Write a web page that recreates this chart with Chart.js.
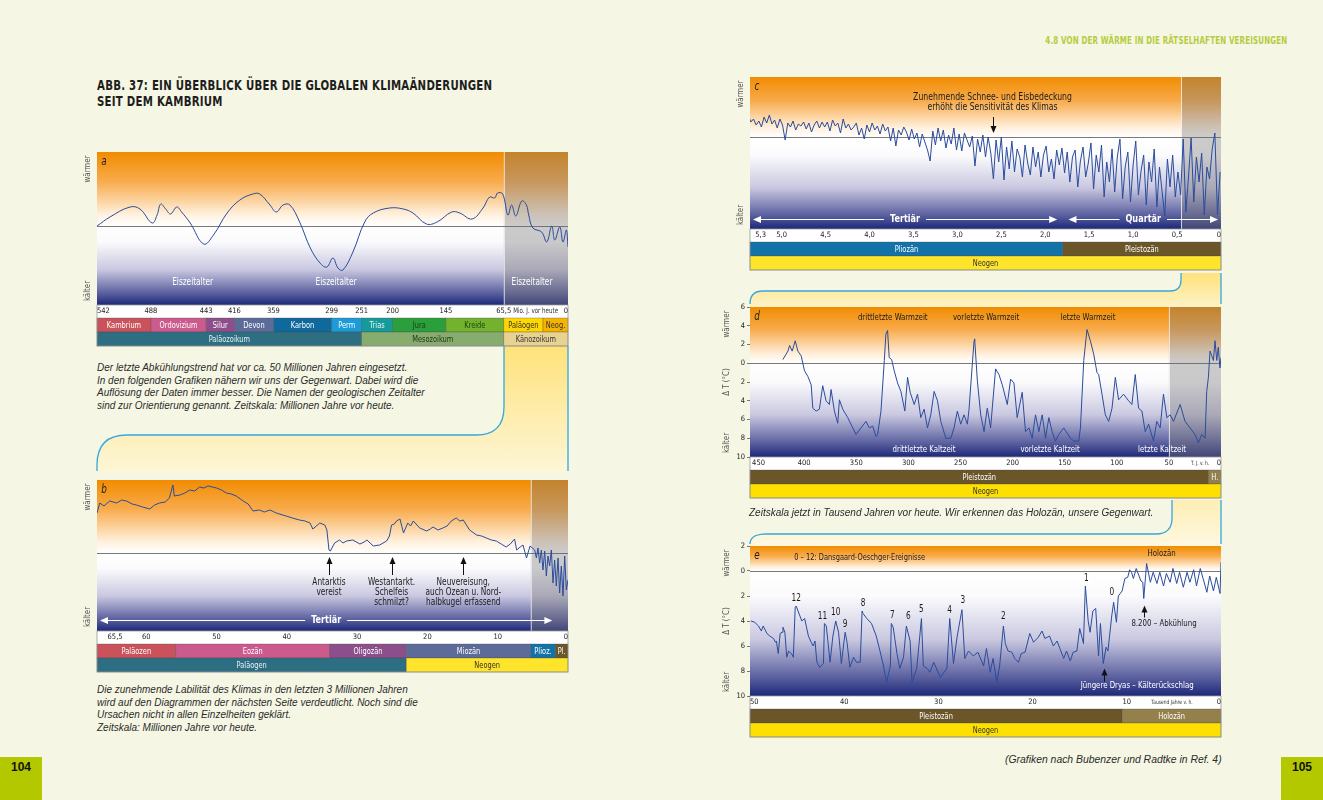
<!DOCTYPE html>
<html lang="de">
<head>
<meta charset="utf-8">
<title>Abb. 37 – Globale Klimaänderungen seit dem Kambrium</title>
<script src="https://cdn.jsdelivr.net/npm/chart.js@4.4.1/dist/chart.umd.min.js"></script>
<style>
  html, body { margin: 0; padding: 0; }
  body { width: 1323px; height: 800px; background: #f5f7e4; position: relative; overflow: hidden;
         font-family: "Liberation Sans", Arial, sans-serif; }
  canvas { position: absolute; }
  #conn { position: absolute; left: 0; top: 0; }
  #title { position: absolute; left: 97px; top: 77px; color: #1e1e1e; letter-spacing: 0.3px; white-space: nowrap;
           font: bold 14px/16px "Liberation Sans Narrow", "DejaVu Sans Condensed", sans-serif;
           transform: scaleX(0.81); transform-origin: left top; }
  #head { position: absolute; right: 36px; top: 35px; color: #b6cc3e; letter-spacing: 0.2px; white-space: nowrap;
          font: bold 10px/12px "Liberation Sans Narrow", "DejaVu Sans Condensed", sans-serif;
          transform: scaleX(0.79); transform-origin: right top; }
  .cap { position: absolute; color: #2b2b2b; font: italic 10px/12.6px "Liberation Sans", Arial, sans-serif; white-space: nowrap; }
  .pg { position: absolute; top: 757px; width: 42px; height: 43px; background: #b4c800;
        font: bold 12px/20px "Liberation Sans", Arial, sans-serif; text-align: center; color: #111; }
</style>
</head>
<body>
<svg id="conn" width="1323" height="800">
  <defs>
    <linearGradient id="g1" x1="0" y1="0" x2="0" y2="1">
      <stop offset="0" stop-color="#ffe27a"/><stop offset="1" stop-color="#fdf6d8"/>
    </linearGradient>
    <linearGradient id="g2" x1="0" y1="0" x2="0" y2="1">
      <stop offset="0" stop-color="#ffe27a"/><stop offset="1" stop-color="#fdf3c8"/>
    </linearGradient>
    <linearGradient id="g3" x1="0" y1="0" x2="0" y2="1">
      <stop offset="0" stop-color="#fdeeb4"/><stop offset="1" stop-color="#fef8e2"/>
    </linearGradient>
  </defs>
  <path d="M504,346 L504,407 Q504,435 476,435 L127,435 Q97,435 97,465 L97,473 L568,473 L568,346 Z" fill="url(#g1)"/>
  <path d="M504,346 L504,407 Q504,435 476,435 L127,435 Q97,435 97,465 L97,471 M568,346 L568,471" stroke="#35a8dd" stroke-width="1.3" fill="none"/>
  <path d="M1181,273 L1181,280 Q1181,291 1170,291 L763,291 Q750,291 750,304 L750,307 L1221,307 L1221,273 Z" fill="url(#g2)"/>
  <path d="M1181,273 L1181,280 Q1181,291 1170,291 L763,291 Q750,291 750,304 M1221,273 L1221,304" stroke="#35a8dd" stroke-width="1.3" fill="none"/>
  <path d="M1172,500 L1172,518 Q1172,534 1156,534 L766,534 Q750,534 750,546 L1221,546 L1221,500 Z" fill="url(#g3)"/>
  <path d="M1172,500 L1172,518 Q1172,534 1156,534 L766,534 Q750,534 750,544 M1221,500 L1221,544" stroke="#35a8dd" stroke-width="1.3" fill="none"/>
</svg>

<div id="head">4.8 VON DER WÄRME IN DIE RÄTSELHAFTEN VEREISUNGEN</div>
<div id="title">ABB. 37: EIN ÜBERBLICK ÜBER DIE GLOBALEN KLIMAÄNDERUNGEN<br>SEIT DEM KAMBRIUM</div>

<canvas id="cA" width="495" height="210" style="left:80px;top:145px"></canvas>
<canvas id="cB" width="495" height="210" style="left:80px;top:473px"></canvas>
<canvas id="cC" width="505" height="210" style="left:725px;top:70px"></canvas>
<canvas id="cD" width="525" height="210" style="left:705px;top:300px"></canvas>
<canvas id="cE" width="525" height="210" style="left:705px;top:539px"></canvas>

<div class="cap" style="left:97px;top:362px">Der letzte Abkühlungstrend hat vor ca. 50 Millionen Jahren eingesetzt.<br>In den folgenden Grafiken nähern wir uns der Gegenwart. Dabei wird die<br>Auflösung der Daten immer besser. Die Namen der geologischen Zeitalter<br>sind zur Orientierung genannt. Zeitskala: Millionen Jahre vor heute.</div>
<div class="cap" style="left:97px;top:684px">Die zunehmende Labilität des Klimas in den letzten 3 Millionen Jahren<br>wird auf den Diagrammen der nächsten Seite verdeutlicht. Noch sind die<br>Ursachen nicht in allen Einzelheiten geklärt.<br>Zeitskala: Millionen Jahre vor heute.</div>
<div class="cap" style="left:749px;top:507px">Zeitskala jetzt in Tausend Jahren vor heute. Wir erkennen das Holozän, unsere Gegenwart.</div>
<div class="cap" style="left:1005px;top:754px;font-size:10.4px">(Grafiken nach Bubenzer und Radtke in Ref. 4)</div>
<div class="pg" style="left:0">104</div>
<div class="pg" style="left:1281px">105</div>

<script>
// ---------- a: Kambrium bis heute (Mio. Jahre) ----------
const aPeriods = ['Kambrium', 'Ordovizium', 'Silur', 'Devon', 'Karbon', 'Perm', 'Trias', 'Jura', 'Kreide', 'Paläogen', 'Neog.'];
const aBounds = [542, 488, 443, 416, 359, 299, 251, 200, 145, 65.5, 23, 0];
const aTicks = [542, 488, 443, 416, 359, 299, 251, 200, 145, 65.5, 0];
const aEras = ['Paläozoikum', 'Mesozoikum', 'Känozoikum'];
const aEraBounds = [542, 251, 65.5, 0];
const aAge = [542, 529, 509, 499, 487, 483, 480, 476, 472, 467,
              463, 456, 445, 436, 423, 408, 389, 379, 364, 356,
              349, 342, 332, 321, 311, 304, 297, 289, 281, 265,
              246, 232, 205, 189, 179, 165, 154, 137, 126, 109,
              94, 85, 78, 74, 67, 61, 57, 52.5, 46, 41,
              38.5, 34, 24.5, 19.6, 15, 12.2, 7.6, 4.6, 1.5, 0];
const aTemp = [0, 0.9, 1.9, 1.7, 0.3, 1.1, 2.2, 1.7, 1.2, 1.9,
               1.4, 0.3, -1.8, -0.9, 1.3, 2.6, 3.2, 3.2, 2.1, 1.4,
               2.1, 2.1, 0.4, -2.2, -3.7, -4.1, -3.2, -4.2, -4.4, -2.6,
               0.4, 1.3, 1.8, 1.7, 1.3, 0.2, 0.4, 1.4, 1.3, 0.7,
               1.8, 2.9, 2.8, 3.3, 3.2, 1.1, 2.1, 1.0, 2.5, 2.1,
               1.1, -0.2, -0.6, -1.6, 0, -1.4, -0.1, -1.6, -0.4, -2.1];
const aIceAges = [454, 292, 35];

// ---------- b: Tertiär (Mio. Jahre) ----------
const bEpochs = ['Paläozen', 'Eozän', 'Oligozän', 'Miozän', 'Plioz.', 'Pl.'];
const bEpochBounds = [65.5, 55.8, 33.9, 23, 5.3, 1.8, 0];
const bPeriods = ['Paläogen', 'Neogen'];
const bPeriodBounds = [65.5, 23, 0];
const bTicks = [65.5, 60, 50, 40, 30, 20, 10, 0];
const bAge = [67.0, 66.6, 66.0, 65.2, 64.2, 63.5, 62.8, 62.0, 61.4, 60.5,
              59.5, 58.8, 58.1, 57.3, 56.7, 56.2, 56.0, 55.2, 54.5, 53.8,
              53.1, 52.4, 51.8, 51.2, 50.0, 49.3, 48.6, 47.9, 47.2, 46.2,
              45.5, 44.8, 43.9, 43.2, 42.4, 41.5, 40.1, 39.2, 38.2, 37.4,
              36.7, 36.3, 35.3, 34.6, 34.3, 34.0, 33.8, 33.2, 32.5, 32.0,
              31.5, 30.6, 29.6, 29.0, 28.6, 27.7, 26.8, 25.8, 25.4, 25.1,
              24.7, 24.4, 23.9, 23.4, 22.8, 22.4, 22.0, 21.1, 20.1, 19.6,
              19.2, 18.5, 17.8, 17.2, 16.6, 15.9, 15.4, 14.9, 14.0, 13.0,
              12.3, 11.6, 10.9, 10.2, 9.5, 8.8, 8.2, 7.6, 7.3, 6.8,
              6.4, 5.9, 5.4, 4.74, 4.5, 4.27, 4.03, 3.79, 3.56, 3.32,
              3.08, 2.84, 2.61, 2.37, 2.13, 1.9, 1.66, 1.42, 1.19, 0.95,
              0.71, 0.47, 0.24, 0];
const bTemp = [4.0, 5.0, 4.7, 5.2, 5.0, 5.3, 5.2, 4.9, 4.8, 4.6,
               4.4, 4.8, 5.0, 5.1, 5.5, 6.8, 5.7, 5.8, 6.0, 6.3,
               6.2, 6.6, 6.5, 6.7, 6.5, 6.3, 6.0, 5.9, 5.7, 5.2,
               4.9, 4.2, 4.3, 4.1, 4.3, 4.0, 3.7, 3.5, 3.3, 3.2,
               3.0, 2.4, 3.0, 2.8, 2.3, 0.3, 0.2, 1.0, 1.3, 1.0,
               1.2, 1.3, 0.9, 1.1, 1.3, 0.7, 0.8, 1.2, 1.7, 2.8,
               2.9, 3.2, 3.4, 2.0, 3.0, 2.7, 3.2, 2.5, 2.2, 2.4,
               2.6, 2.3, 2.5, 2.7, 3.2, 3.5, 3.2, 3.3, 2.3, 1.8,
               1.7, 1.5, 1.3, 1.2, 0.9, 0.6, 0.9, 1.4, 0.3, 0.6,
               0.8, -0.5, 0.7, 0.3, -0.5, 0.5, -1.0, 0.3, -1.7, 0.2,
               -2.3, -0.3, -1.3, 0.3, -3.0, -0.7, -3.3, -0.5, -4.0, -1.3,
               -4.3, -0.3, -3.7, -2.7];
const bEvents = ['Antarktis\nvereist', 'Westantarkt.\nSchelfeis\nschmilzt?', 'Neuvereisung,\nauch Ozean u. Nord-\nhalbkugel erfassend'];
const bEventAge = [34.0, 25.1, 14.9];

// ---------- c: Pliozän/Pleistozän (Mio. Jahre) ----------
const cEpochs = ['Pliozän', 'Pleistozän'];
const cEpochBounds = [5.3, 1.8, 0];
const cTicks = [5.3, 5.0, 4.5, 4.0, 3.5, 3.0, 2.5, 2.0, 1.5, 1.0, 0.5, 0];
const cStart = 5.38, cStep = 0.03;   // Abtastung der Kurve in Mio. Jahren
const cTemp = [2.2, 1.5, 1.8, 1.2, 1.6, 1.0, 2.0, 1.4, 2.2, 1.3,
               1.7, 0.9, 1.8, 1.2, -0.3, 1.4, 1.0, 1.6, 0.7, 1.3,
               1.1, 1.5, 0.8, 1.4, 0.5, 1.2, 1.6, 0.9, 1.5, 1.0,
               1.5, 0.6, 1.7, 1.1, 1.4, 0.4, 1.8, 0.9, 1.3, 0.7,
               1.0, 1.4, 0.2, 0.9, -0.2, 1.2, 0.5, 1.4, 0.7, 1.1,
               0.3, 1.3, 0.6, 1.0, -0.4, 0.9, -0.9, 0.7, 0.2, 1.0,
               0.5, -0.3, 0.8, -0.2, 0.4, -1.0, 0.3, -0.5, -1.3, -2.4,
               0.6, -0.8, 0.9, -0.4, 0.7, -1.1, 0.2, -0.7, 0.9, -1.3,
               0.3, -1.4, 0.4, -0.3, -1.0, 0.1, -2.9, -0.2, -1.5, 0.2,
               -2.0, 0.0, -1.6, -4.2, -0.3, -2.5, 0.0, -4.3, -1.0, -3.2,
               -0.4, -3.5, -1.2, -2.0, -4.0, -0.8, -2.6, -3.8, -1.0, -3.0,
               -1.5, -4.0, -1.8, -0.9, -3.5, -2.2, -4.2, -1.3, -2.8, -1.1,
               -3.6, -1.5, -4.5, -2.0, -1.3, -5.0, -2.4, -1.0, -4.0, -2.6,
               -0.6, -5.2, -1.8, -3.5, -0.8, -6.0, -2.5, -4.5, -1.2, -5.5,
               -2.0, -0.2, -6.2, -3.0, -1.5, -6.5, -2.8, -0.4, -5.8, -3.4,
               -1.8, -6.8, -2.5, -4.5, -1.2, -7.0, -3.0, -5.5, -7.9, -2.2,
               -5.0, -1.8, -6.0, -3.5, -5.8, -0.2, -7.5, -4.0, -0.1, -6.5,
               -2.0, -4.5, -1.6, -7.8, -3.0, -4.2, -1.2, 0.4, -7.8, -3.5];

// ---------- d: letzte 450.000 Jahre (Tausend Jahre), Delta T in °C ----------
const dEpochs = ['Pleistozän', 'H.'];
const dEpochBounds = [452, 12, 0];
const dTicks = [450, 400, 350, 300, 250, 200, 150, 100, 50, 0];
const dAge = [420.4, 415.6, 414.0, 411.5, 408.6, 406.1, 402.9, 399.7, 396.5, 393.3,
              391.7, 388.5, 385.4, 382.2, 379.0, 375.8, 374.2, 371.0, 367.8, 366.2,
              363.0, 358.2, 353.4, 350.3, 345.5, 340.7, 337.5, 334.3, 331.1, 329.5,
              326.3, 323.1, 321.6, 320.0, 318.4, 316.1, 313.6, 310.4, 307.2, 303.4,
              300.8, 298.3, 294.4, 291.2, 288.1, 284.9, 281.7, 278.5, 275.3, 272.1,
              268.9, 264.1, 259.3, 256.2, 253.0, 249.8, 246.6, 243.4, 241.8, 237.0,
              236.4, 233.8, 230.6, 227.4, 224.3, 221.1, 216.3, 213.1, 209.9, 205.1,
              201.9, 198.7, 195.6, 190.8, 187.6, 184.4, 181.2, 178.0, 174.8, 171.6,
              168.4, 165.2, 162.1, 158.9, 155.7, 150.9, 144.5, 141.3, 136.5, 134.9,
              131.7, 128.6, 125.4, 122.2, 119.0, 117.4, 114.2, 111.0, 107.8, 104.6,
              101.4, 98.3, 93.5, 88.7, 85.5, 82.3, 79.1, 75.9, 72.7, 69.5,
              64.8, 61.6, 58.4, 55.2, 52.0, 48.8, 45.6, 39.2, 34.5, 29.7,
              24.9, 21.7, 18.5, 15.3, 13.7, 12.1, 10.5, 7.3, 5.7, 4.1,
              2.6, 1.0, 0];
const dTemp = [0.4, 1.3, 1.9, 1.3, 2.4, 1.3, 0.8, -0.8, -1.4, -2.3,
               -4.8, -5.1, -4.9, -2.4, -4.0, -4.4, -2.8, -5.1, -6.4, -3.9,
               -4.9, -5.8, -6.9, -7.6, -6.9, -6.2, -6.9, -6.7, -7.8, -7.6,
               -5.1, 0.3, 3.1, 3.5, 0.6, 0.4, -0.8, -2.1, -3.0, -5.1,
               -1.5, -3.1, -4.4, -3.3, -5.8, -4.9, -6.9, -5.5, -3.0, -4.0,
               -6.2, -8.0, -8.0, -6.9, -5.1, -6.5, -5.5, -6.5, -4.9, 2.4,
               2.6, -1.9, -5.5, -7.3, -4.8, -6.9, -0.6, -1.2, -2.3, -4.4,
               -1.7, -2.1, -5.8, -3.1, -7.3, -6.9, -8.0, -5.5, -7.3, -5.5,
               -8.0, -5.8, -7.3, -8.3, -7.6, -6.9, -8.0, -8.3, -8.3, -6.9,
               0.3, 3.6, 2.4, 1.0, -1.0, -1.2, -3.3, -5.5, -6.2, -4.8,
               -1.5, -3.9, -3.3, -4.0, -4.4, -1.2, -4.8, -5.1, -7.3, -6.5,
               -8.3, -6.2, -6.9, -3.3, -5.8, -5.5, -6.2, -4.4, -6.2, -6.9,
               -7.6, -8.5, -7.6, -8.0, -3.0, -1.5, 1.3, 0.3, 2.4, 0.3,
               1.7, -0.5, 0.6];
const dWarm = ['drittletzte Warmzeit', 'vorletzte Warmzeit', 'letzte Warmzeit'];
const dWarmAge = [315, 225.5, 127.6];
const dCold = ['drittletzte Kaltzeit', 'vorletzte Kaltzeit', 'letzte Kaltzeit'];
const dColdAge = [285, 164, 56.6];

// ---------- e: letzte 50.000 Jahre (Tausend Jahre), Delta T in °C ----------
const eEpochs = ['Pleistozän', 'Holozän'];
const eEpochBounds = [50, 10.5, 0];
const eTicks = [50, 40, 30, 20, 10, 0];
const eAge = [49.9, 49.5, 49.1, 48.8, 48.6, 48.2, 47.9, 47.5, 47.3, 47.2,
              47.0, 46.8, 46.6, 46.5, 46.3, 46.1, 45.9, 45.8, 45.6, 45.4,
              45.2, 45.1, 44.9, 44.5, 44.2, 43.8, 43.5, 43.3, 43.1, 42.9,
              42.6, 42.2, 42.1, 41.9, 41.5, 41.2, 40.9, 40.6, 40.3, 39.9,
              39.7, 39.4, 39.0, 38.7, 38.3, 38.1, 38.0, 37.6, 37.1, 36.6,
              36.2, 35.8, 35.5, 35.1, 35.0, 34.8, 34.4, 34.1, 33.7, 33.4,
              33.0, 32.8, 32.3, 31.8, 31.6, 31.2, 30.9, 30.5, 29.8, 29.1,
              28.8, 28.4, 28.0, 27.5, 27.2, 26.8, 26.3, 25.8, 25.2, 24.9,
              24.5, 24.2, 23.8, 23.5, 23.1, 22.9, 22.6, 22.2, 21.9, 21.5,
              21.2, 20.8, 20.3, 19.9, 19.4, 19.0, 18.7, 18.2, 17.8, 17.4,
              17.1, 16.7, 16.4, 16.0, 15.7, 15.3, 15.0, 14.6, 14.4, 14.1,
              13.9, 13.6, 13.3, 13.0, 12.8, 12.5, 12.2, 12.0, 11.6, 11.4,
              11.1, 10.9, 10.5, 10.2, 9.9, 9.7, 9.5, 9.3, 9.0, 8.5,
              8.3, 8.2, 7.9, 7.5, 7.2, 6.8, 6.5, 6.1, 5.8, 5.4,
              5.1, 4.7, 4.4, 4.0, 3.6, 3.3, 2.9, 2.6, 2.2, 1.9,
              1.5, 1.2, 0.8, 0.5, 0.1, 0.0];
const eTemp = [-4.0, -4.1, -4.4, -4.8, -4.4, -5.0, -5.2, -5.4, -5.7, -5.6,
               -6.6, -5.0, -4.9, -4.5, -4.9, -6.9, -6.4, -6.5, -6.6, -6.9,
               -2.9, -2.8, -3.2, -4.0, -3.8, -5.2, -5.7, -6.0, -5.6, -7.3,
               -7.7, -7.4, -4.2, -4.4, -7.3, -5.2, -4.0, -4.9, -7.4, -4.9,
               -5.7, -7.7, -6.9, -7.3, -7.3, -3.2, -3.4, -3.8, -4.2, -5.2,
               -6.4, -7.7, -8.9, -7.6, -4.2, -4.5, -6.6, -7.8, -6.9, -4.4,
               -5.6, -8.9, -7.8, -3.8, -7.6, -7.8, -8.1, -7.3, -8.5, -7.8,
               -3.8, -7.4, -5.2, -3.1, -7.0, -6.4, -6.8, -6.5, -7.6, -6.2,
               -8.1, -7.0, -8.9, -7.6, -4.4, -5.8, -6.4, -6.5, -7.0, -7.3,
               -6.6, -6.5, -5.0, -5.7, -5.3, -4.8, -5.4, -5.2, -6.0, -5.6,
               -6.2, -7.0, -6.4, -7.2, -6.5, -6.4, -4.6, -5.8, -1.2, -4.0,
               -4.9, -3.2, -3.0, -6.8, -4.2, -7.4, -6.1, -6.4, -3.6, -2.5,
               -4.1, -2.0, -1.6, -0.6, -0.5, 0.1, -0.1, -0.6, 0.2, -0.8,
               -0.9, -2.2, 0.6, -0.9, -0.1, -1.0, -0.1, -1.2, -0.2, -0.9,
               0.2, -1.0, -0.1, -1.3, -0.1, -0.9, 0.1, -1.2, 0.2, -0.6,
               -1.7, -0.4, -1.6, -0.5, -1.8, 0.7];
const eDoNames = ['12', '11', '10', '9', '8', '7', '6', '5', '4', '3', '2', '1', '0'];
const eDoAge = [45.1, 42.3, 40.9, 39.9, 38.0, 34.9, 33.2, 31.8, 28.8, 27.4, 23.1, 14.3, 11.6];

// ---------- Darstellung ----------
const FN = '"Liberation Sans Narrow", "DejaVu Sans Condensed", "Arial Narrow", sans-serif';
const SQ = 0.82;   // horizontale Stauchung der Beschriftung (schmale Schrift)
Chart.defaults.font.family = FN;

// Pixelbreiten der Perioden im Teil a (die Zeitachse ist dort nicht linear)
const aSegPx = [54, 55.3, 28.3, 39, 58.4, 30, 31, 53.3, 58, 39.3, 25];
const aCum = aSegPx.reduce((c, w) => { c.push(c[c.length - 1] + w); return c; }, [0]);
function warpA(age) {
  for (let i = 0; i < aSegPx.length; i++) {
    const hi = aBounds[i], lo = aBounds[i + 1];
    if (age <= hi && age >= lo) return aCum[i] + (hi - age) / (hi - lo) * aSegPx[i];
  }
  return age > aBounds[0] ? 0 : aCum[aCum.length - 1];
}
const toX = { cA: warpA };

function bands(names, bounds) { return names.map((n, i) => [n, bounds[i], bounds[i + 1]]); }
function pairs(xs, ys, f) { return xs.map((x, i) => ({ x: f ? f(x) : x, y: ys[i] })); }
const comma = v => String(v).replace('.', ',');

const panels = {
  cA: {
    letter: 'a', shadeFrom: 65.5, titleDx: 9,
    rows: [bands(aPeriods, aBounds), bands(aEras, aEraBounds)],
    rowColors: [
      [['#c9525b', '#fff'], ['#cc5b8d', '#fff'], ['#8d4f8b', '#fff'], ['#5d6b98', '#fff'], ['#10699d', '#fff'], ['#1b9bd7', '#fff'],
       ['#179a9c', '#e8f6f6'], ['#2c9f3d', '#173d17'], ['#72b22d', '#22420e'], ['#fed700', '#333'], ['#f6b400', '#333']],
      [['#2e6e83', '#e8f1f3'], ['#87ad6e', '#26361c'], ['#e8d292', '#333']]
    ],
    texts: aIceAges.map(a => ({ s: 'Eiszeitalter', x: a, y: -5.6, c: '#fff', size: 10 })),
    unit: { s: 'Mio. J. vor heute', x: 31, size: 7.5 }
  },
  cB: {
    letter: 'b', shadeFrom: 5.3, titleDx: 9,
    rows: [bands(bEpochs, bEpochBounds), bands(bPeriods, bPeriodBounds)],
    rowColors: [
      [['#c9525b', '#fff'], ['#cc5b8d', '#fff'], ['#8d4f8b', '#fff'], ['#5d6b98', '#fff'], ['#1373a8', '#fff'], ['#6b5629', '#fff']],
      [['#2e6e83', '#e8f1f3'], ['#fee42b', '#333']]
    ],
    texts: bEvents.map((s, i) => ({ s, x: bEventAge[i], y: -2.9, c: '#1b1b1b', size: 10 })),
    arrows: bEventAge.map(a => ({ x: a, from: -2.2, to: -0.4 })),
    eras: [{ s: 'Tertiär', from: 67, to: 1.8, y: -6.7 }]
  },
  cC: {
    letter: 'c', shadeFrom: 0.455, titleDx: 9,
    rows: [bands(cEpochs, cEpochBounds), bands(['Neogen'], [5.3, 0])],
    rowColors: [[['#1373a8', '#fff'], ['#6b5629', '#fff']], [['#fee42b', '#333']]],
    texts: [{ s: 'Zunehmende Schnee- und Eisbedeckung\nerhöht die Sensitivität des Klimas', x: 2.6, y: 3.93, c: '#1b1b1b', size: 10.5 }],
    arrows: [{ x: 2.6, from: 2.0, to: 0.4 }],
    eras: [{ s: 'Tertiär', from: 5.36, to: 1.83, y: -8.17 }, { s: 'Quartär', from: 1.77, to: 0, y: -8.17 }]
  },
  cD: {
    letter: 'd', shadeFrom: 50, titleDx: 23, dT: true,
    rows: [bands(dEpochs, dEpochBounds), bands(['Neogen'], [452, 0])],
    rowColors: [[['#6b5629', '#fff'], ['#93804b', '#fff']], [['#fde000', '#333']]],
    texts: dWarm.map((s, i) => ({ s, x: dWarmAge[i], y: 4.9, c: '#1b1b1b', size: 9.5 }))
      .concat(dCold.map((s, i) => ({ s, x: dColdAge[i], y: -9.2, c: '#fff', size: 9.5 }))),
    unit: { s: 'T. J. v. h.', x: 20, size: 6 }
  },
  cE: {
    letter: 'e', titleDx: 23, dT: true,
    rows: [bands(eEpochs, eEpochBounds), bands(['Neogen'], [50, 0])],
    rowColors: [[['#6b5629', '#fff'], ['#93804b', '#fff']], [['#fde000', '#333']]],
    texts: [
      { s: '0 – 12: Dansgaard-Oeschger-Ereignisse', x: 45.3, y: 1.08, c: '#1b1b1b', size: 9, align: 'left' },
      { s: 'Holozän', x: 6.3, y: 1.4, c: '#1b1b1b', size: 9.5 },
      { s: '8.200 – Abkühlung', x: 6.05, y: -4.2, c: '#1b1b1b', size: 9.5 },
      { s: 'Jüngere Dryas – Kälterückschlag', x: 8.9, y: -9.2, c: '#fff', size: 9.5 }
    ].concat(eDoNames.map((s, i) => ({ s, x: eDoAge[i], y: [-2.2, -3.64, -3.32, -4.28, -2.6, -3.56, -3.64, -3.08, -3.16, -2.36, -3.64, -0.6, -1.72][i],
      c: '#1b1b1b', size: 10, circle: s === '1' }))),
    arrows: [{ x: 12.4, from: -8.85, to: -7.8 }, { x: 8.2, from: -3.72, to: -2.76 }],
    unit: { s: 'Tausend Jahre v. h.', x: 5.2, size: 6 }
  }
};

function xPix(chart, v) { const f = toX[chart.canvas.id]; return chart.scales.x.getPixelForValue(f ? f(v) : v); }
function yPix(chart, v) { return chart.scales.y.getPixelForValue(v); }
function put(ctx, s, x, y, size, color, align, weight) {
  ctx.save();
  ctx.translate(x, y); ctx.scale(SQ, 1);
  ctx.font = (weight || '') + ' ' + size + 'px ' + FN;
  ctx.fillStyle = color; ctx.textAlign = align || 'center'; ctx.textBaseline = 'middle';
  ctx.fillText(s, 0, 0);
  ctx.restore();
}

const decor = {
  id: 'decor',
  beforeDraw(chart) {
    const p = panels[chart.canvas.id]; if (!p) return;
    const { ctx, chartArea: ca } = chart;
    const z = (yPix(chart, 0) - ca.top) / ca.height, r = 1 - z;
    const g = ctx.createLinearGradient(0, ca.top, 0, ca.bottom);
    g.addColorStop(0, '#f18c00');
    g.addColorStop(z * 0.4, '#f8ab4c');
    g.addColorStop(z * 0.85, '#fff1df');
    g.addColorStop(z, '#ffffff');
    g.addColorStop(z + r * 0.2, '#fbfbfd');
    g.addColorStop(z + r * 0.55, '#c9c8e0');
    g.addColorStop(z + r * 0.85, '#5b609f');
    g.addColorStop(1, '#1c2878');
    ctx.save();
    ctx.fillStyle = g;
    ctx.fillRect(ca.left, ca.top, ca.width, ca.height);
    if (p.shadeFrom != null) {
      const sx = xPix(chart, p.shadeFrom);
      ctx.fillStyle = 'rgba(120,118,118,0.38)';
      ctx.fillRect(sx, ca.top, ca.right - sx, ca.height);
      ctx.strokeStyle = 'rgba(255,255,255,0.75)'; ctx.lineWidth = 1;
      ctx.beginPath(); ctx.moveTo(sx + 0.5, ca.top); ctx.lineTo(sx + 0.5, ca.bottom); ctx.stroke();
    }
    // Streifen für die Zeitachse und Zeitalter-Balken
    ctx.fillStyle = '#fff';
    ctx.fillRect(ca.left, ca.bottom, ca.width, 13);
    let top = ca.bottom + 13;
    p.rows.forEach((row, ri) => {
      row.forEach((b, i) => {
        let l = Math.min(xPix(chart, b[1]), xPix(chart, b[2])), rr = Math.max(xPix(chart, b[1]), xPix(chart, b[2]));
        if (i === 0) l = ca.left;
        if (i === row.length - 1) rr = ca.right;
        const col = p.rowColors[ri][i];
        ctx.fillStyle = col[0]; ctx.fillRect(l, top, rr - l, 14);
        ctx.strokeStyle = 'rgba(70,70,70,0.45)'; ctx.lineWidth = 0.7;
        ctx.strokeRect(l, top, rr - l, 14);
        put(ctx, b[0], (l + rr) / 2, top + 7.5, 9, col[1]);
      });
      top += 14;
    });
    ctx.strokeStyle = '#9a9a9a'; ctx.lineWidth = 0.8;
    ctx.strokeRect(ca.left, ca.bottom, ca.width, top - ca.bottom);
    ctx.restore();
  },
  beforeDatasetsDraw(chart) {
    const { ctx, chartArea: ca } = chart;
    const y0 = Math.round(yPix(chart, 0)) + 0.5;
    ctx.save(); ctx.strokeStyle = '#6a6a6a'; ctx.lineWidth = 0.9;
    ctx.beginPath(); ctx.moveTo(ca.left, y0); ctx.lineTo(ca.right, y0); ctx.stroke(); ctx.restore();
  },
  afterDatasetsDraw(chart) {
    const p = panels[chart.canvas.id]; if (!p) return;
    const { ctx, chartArea: ca } = chart;
    ctx.save();
    put(ctx, p.letter, ca.left + 7, ca.top + 10, 12, '#222', 'center', 'italic');
    // Achsentitel
    const tx = ca.left - p.titleDx;
    const vt = (s, y) => { ctx.save(); ctx.translate(tx, y); ctx.rotate(-Math.PI / 2); put(ctx, s, 0, 0, 9.5, '#555'); ctx.restore(); };
    vt('wärmer', ca.top + 17);
    vt('kälter', ca.bottom - 14);
    if (p.dT) vt('Δ T (°C)', (ca.top + ca.bottom) / 2);
    // Ären-Pfeile
    (p.eras || []).forEach(e => {
      const x0 = xPix(chart, e.from) + 3, x1 = xPix(chart, e.to) - 3, y = Math.round(yPix(chart, e.y)) + 0.5, cx = (x0 + x1) / 2;
      ctx.font = 'bold 11px ' + FN; const w = ctx.measureText(e.s).width * SQ;
      ctx.strokeStyle = '#fff'; ctx.lineWidth = 1;
      ctx.beginPath(); ctx.moveTo(x0 + 6, y); ctx.lineTo(cx - w / 2 - 6, y); ctx.moveTo(cx + w / 2 + 6, y); ctx.lineTo(x1 - 6, y); ctx.stroke();
      ctx.fillStyle = '#fff';
      ctx.beginPath(); ctx.moveTo(x0, y); ctx.lineTo(x0 + 8, y - 3.5); ctx.lineTo(x0 + 8, y + 3.5); ctx.fill();
      ctx.beginPath(); ctx.moveTo(x1, y); ctx.lineTo(x1 - 8, y - 3.5); ctx.lineTo(x1 - 8, y + 3.5); ctx.fill();
      put(ctx, e.s, cx, y, 11, '#fff', 'center', 'bold');
    });
    // Pfeile
    (p.arrows || []).forEach(a => {
      const x = Math.round(xPix(chart, a.x)) + 0.5, yt = yPix(chart, a.to), yf = yPix(chart, a.from), d = yt < yf ? 1 : -1;
      ctx.strokeStyle = '#111'; ctx.fillStyle = '#111'; ctx.lineWidth = 1;
      ctx.beginPath(); ctx.moveTo(x, yf); ctx.lineTo(x, yt + d * 5); ctx.stroke();
      ctx.beginPath(); ctx.moveTo(x, yt); ctx.lineTo(x - 3, yt + d * 7); ctx.lineTo(x + 3, yt + d * 7); ctx.fill();
    });
    // Beschriftungen
    (p.texts || []).forEach(t => {
      const x = xPix(chart, t.x), y = yPix(chart, t.y);
      if (t.circle) { ctx.fillStyle = '#fff'; ctx.beginPath(); ctx.arc(x, y, 6, 0, Math.PI * 2); ctx.fill(); }
      t.s.split('\n').forEach((line, i) => put(ctx, line, x, y + i * 10, t.size, t.c, t.align));
    });
    if (p.unit) put(ctx, p.unit.s, xPix(chart, p.unit.x), ca.bottom + 6.5, p.unit.size, '#333');
    ctx.restore();
  }
};

function xAxis(min, max, ticks, label, reverse) {
  return {
    type: 'linear', min, max, reverse,
    afterBuildTicks: s => { s.ticks = ticks.slice().sort((a, b) => a - b).map(v => ({ value: v })); },
    afterFit: s => { s.height = 13; },
    grid: { display: false, drawTicks: false },
    border: { display: false },
    ticks: { autoSkip: false, maxRotation: 0, align: 'inner', padding: 2, color: '#222', font: { size: 7.5 }, callback: label }
  };
}
function yHidden(min, max) { return { type: 'linear', min, max, display: false }; }
function yShown(min, max, ticks) {
  return {
    type: 'linear', min, max,
    afterBuildTicks: s => { s.ticks = ticks.map(v => ({ value: v })); },
    afterFit: s => { s.width = 14; },
    grid: { display: true, drawOnChartArea: false, drawTicks: true, tickLength: 3, color: '#555', lineWidth: 0.8 },
    border: { display: false },
    ticks: { padding: 2, color: '#222', font: { size: 7.5 }, callback: v => String(Math.abs(v)) }
  };
}

function lineChart(id, pts, x, y, pad, tension) {
  return new Chart(document.getElementById(id), {
    type: 'line',
    data: { datasets: [{ data: pts, borderColor: '#2b4c9c', borderWidth: 1, pointRadius: 0, tension: tension || 0, fill: false }] },
    options: {
      responsive: false, animation: false, devicePixelRatio: 1,
      layout: { padding: pad },
      plugins: { legend: { display: false }, tooltip: { enabled: false } },
      scales: { x, y }
    },
    plugins: [decor]
  });
}

// Teil a: Ticks sitzen auf den verzerrten Positionen, beschriftet mit dem Alter
const aTickPos = aTicks.map(warpA);
lineChart('cA', pairs(aAge, aTemp, warpA),
  xAxis(0, aCum[aCum.length - 1], aTickPos, v => comma(aTicks[aTickPos.indexOf(v)]), false),
  yHidden(-7.9, 7.4), { left: 17, top: 7, right: 7, bottom: 37 }, 0.4);

lineChart('cB', pairs(bAge, bTemp),
  xAxis(0, 67, bTicks, v => comma(v), true),
  yHidden(-7.8, 7.3), { left: 17, top: 7, right: 7, bottom: 39 });

const cAge = cTemp.map((v, i) => +(cStart - i * cStep).toFixed(2));
lineChart('cC', pairs(cAge, cTemp),
  xAxis(0, 5.36, cTicks, v => v === 0 ? '0' : comma(v.toFixed(1)), true),
  yHidden(-9.2, 6.0), { left: 25, top: 7, right: 9, bottom: 38 });

lineChart('cD', pairs(dAge, dTemp),
  xAxis(0, 452, dTicks, v => String(v), true),
  yShown(-10, 6, [-10, -8, -6, -4, -2, 0, 2, 4, 6]), { left: 31, top: 7, right: 9, bottom: 40 });

lineChart('cE', pairs(eAge, eTemp),
  xAxis(0, 50, eTicks, v => String(v), true),
  yShown(-10, 2, [-10, -8, -6, -4, -2, 0, 2]), { left: 31, top: 7, right: 9, bottom: 40 });
</script>
</body>
</html>
